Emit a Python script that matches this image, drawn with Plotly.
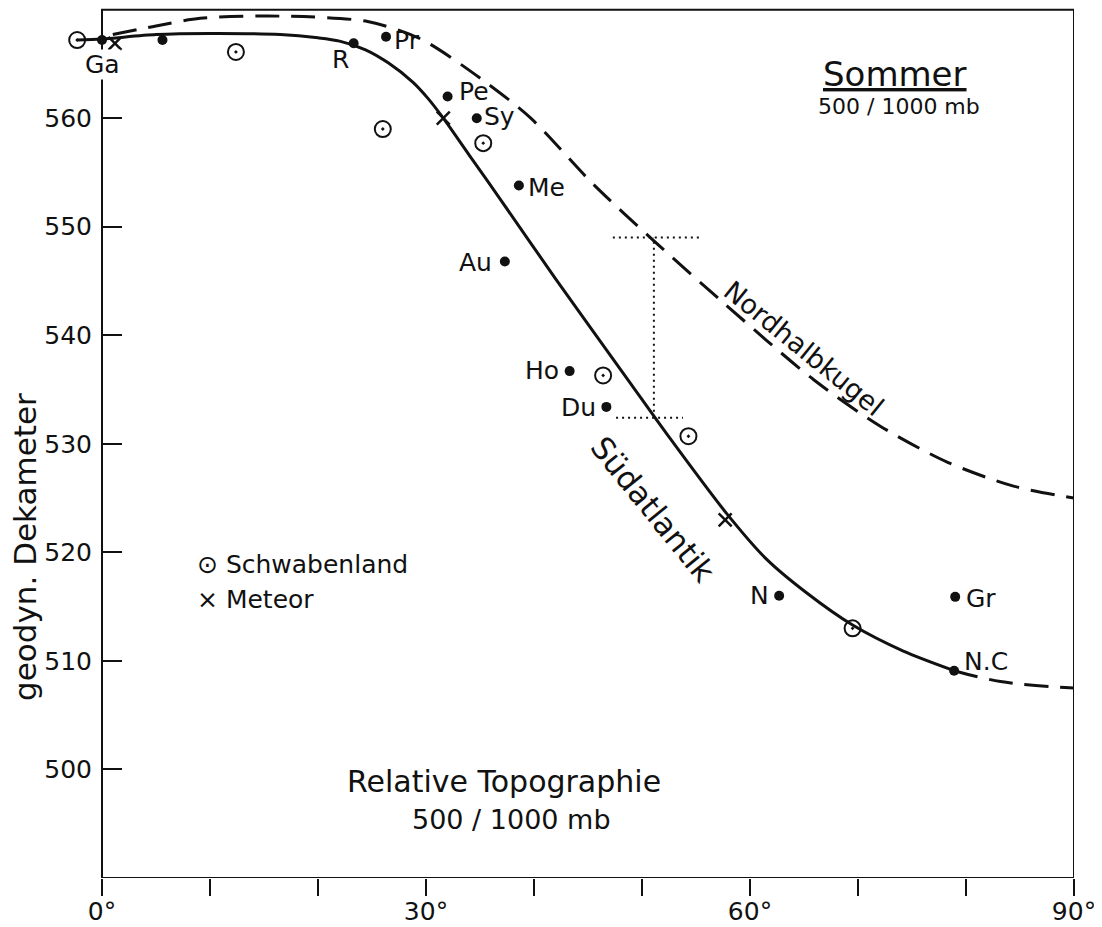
import plotly.graph_objects as go

# ---------------- data ----------------
# stations (filled dots) : latitude (deg) and relative topography (geodyn. dam)
station_names = ["Ga", "", "R", "Pr", "Pe", "Sy", "Me", "Au", "Ho", "Du", "N", "Gr", "N.C"]
station_lat = [0.0, 5.6, 23.3, 26.3, 32.0, 34.7, 38.6, 37.3, 43.3, 46.7, 62.7, 79.0, 78.9]
station_val = [567.2, 567.2, 566.9, 567.5, 562.0, 560.0, 553.8, 546.8, 536.7, 533.4, 516.0, 515.9, 509.1]

# Schwabenland observations (circle with dot)
schwaben_lat = [-2.3, 12.4, 26.0, 35.3, 46.4, 54.3, 69.5]
schwaben_val = [567.2, 566.1, 559.0, 557.7, 536.3, 530.7, 513.0]

# Meteor observations (x)
meteor_lat = [1.2, 31.6, 57.7]
meteor_val = [566.9, 560.0, 523.0]

# Suedatlantik mean curve (solid) and its dashed extension
sued_lat = [-2.3, 0.0, 5.0, 10.0, 16.5, 20.0, 22.0, 24.4, 26.5, 28.8, 30.2, 31.6, 34.0, 36.9,
            42.0, 48.7, 52.6, 57.9, 61.5, 65.2, 69.5, 74.2, 78.9]
sued_val = [567.2, 567.3, 567.7, 567.8, 567.7, 567.4, 567.1, 566.3, 565.1, 563.3, 561.8, 560.0, 556.6, 552.5,
            545.2, 535.9, 530.5, 523.5, 519.4, 516.3, 513.3, 510.9, 509.1]
sued_ext_lat = [78.9, 83.2, 90.0]
sued_ext_val = [509.1, 508.1, 507.5]

# Nordhalbkugel mean curve (dashed)
nord_lat = [1.0, 5.0, 9.1, 16.5, 24.6, 29.5, 35.0, 39.7, 45.5, 51.1, 57.3, 65.9, 72.1, 78.3, 84.4, 90.0]
nord_val = [567.7, 568.5, 569.2, 569.4, 568.9, 567.3, 563.7, 560.0, 553.9, 548.7, 543.2, 535.9, 531.6, 528.3, 526.1, 525.0]

# dotted difference bracket at ~51 deg
bracket_lat = 51.1
bracket_top = 549.0
bracket_bottom = 532.4
bracket_top_span = [47.3, 55.6]
bracket_bottom_span = [47.6, 53.8]

x_tick_vals = [0, 10, 20, 30, 40, 50, 60, 70, 80, 90]
x_tick_text = ["0°", "", "", "30°", "", "", "60°", "", "", "90°"]
y_tick_vals = [500, 510, 520, 530, 540, 550, 560]

# ---------------- styling / geometry ----------------
FONT = "DejaVu Sans"
BLACK = "#111111"
FIG_W, FIG_H = 1094, 919          # page body adds an 8px margin
M_L, M_R, M_T, M_B = 52, 28, 0, 49
AXIS0_PX = 94                      # figure pixel of the 0° axis
PLOT_W = FIG_W - M_L - M_R
X_MAX = 90.0
PX_PER_DEG = (FIG_W - M_R - AXIS0_PX) / X_MAX
X_MIN = -(AXIS0_PX - M_L) / PX_PER_DEG
Y_MIN, Y_TOP = 490.0, 570.0
Y_RANGE_TOP = 570.15               # a hair of headroom so the top frame line shows
Y_AXIS_POS = (0 - X_MIN) / (X_MAX - X_MIN)

fig = go.Figure()

# curves
fig.add_trace(go.Scatter(x=sued_lat, y=sued_val, mode="lines",
                         line=dict(color=BLACK, width=3, shape="spline", smoothing=0.8),
                         showlegend=False, hoverinfo="skip"))
fig.add_trace(go.Scatter(x=sued_ext_lat, y=sued_ext_val, mode="lines",
                         line=dict(color=BLACK, width=3, dash="24px,12px", shape="spline"),
                         showlegend=False, hoverinfo="skip"))
fig.add_trace(go.Scatter(x=nord_lat, y=nord_val, mode="lines",
                         line=dict(color=BLACK, width=3, dash="24px,12px", shape="spline", smoothing=0.8),
                         showlegend=False, hoverinfo="skip"))

# dotted bracket
dot_line = dict(color=BLACK, width=2, dash="2px,4px")
fig.add_trace(go.Scatter(x=[bracket_lat, bracket_lat], y=[bracket_bottom, bracket_top], mode="lines",
                         line=dot_line, showlegend=False, hoverinfo="skip"))
fig.add_trace(go.Scatter(x=bracket_top_span, y=[bracket_top, bracket_top], mode="lines",
                         line=dot_line, showlegend=False, hoverinfo="skip"))
fig.add_trace(go.Scatter(x=bracket_bottom_span, y=[bracket_bottom, bracket_bottom], mode="lines",
                         line=dot_line, showlegend=False, hoverinfo="skip"))

# markers
fig.add_trace(go.Scatter(x=station_lat, y=station_val, mode="markers",
                         marker=dict(symbol="circle", size=10, color=BLACK),
                         showlegend=False))
fig.add_trace(go.Scatter(x=schwaben_lat, y=schwaben_val, mode="markers",
                         marker=dict(symbol="circle-open-dot", size=16, color=BLACK,
                                     line=dict(width=2, color=BLACK)),
                         showlegend=False))
fig.add_trace(go.Scatter(x=meteor_lat, y=meteor_val, mode="markers",
                         marker=dict(symbol="x-thin-open", size=13, color=BLACK,
                                     line=dict(width=2.5, color=BLACK)),
                         showlegend=False))

# plot frame from 0° to 90°
fig.add_shape(type="rect", xref="x", yref="y", x0=0, x1=X_MAX, y0=Y_MIN, y1=Y_TOP,
              line=dict(color=BLACK, width=2), layer="below")

# station labels: (xanchor, xshift, yshift)
label_style = {
    "Ga": ("center", 0, -24),
    "R": ("center", -13, -16),
    "Pr": ("left", 7, -4),
    "Pe": ("left", 10, 5),
    "Sy": ("left", 6, 2),
    "Me": ("left", 8, -2),
    "Au": ("right", -12, -1),
    "Ho": ("right", -10, 1),
    "Du": ("right", -9, -1),
    "N": ("right", -9, 0),
    "Gr": ("left", 10, -2),
    "N.C": ("left", 9, 9),
}
for name, lx, ly in zip(station_names, station_lat, station_val):
    if not name:
        continue
    xa, xs, ys = label_style[name]
    fig.add_annotation(x=lx, y=ly, text=name, showarrow=False, xanchor=xa, yanchor="middle",
                       xshift=xs, yshift=ys, font=dict(family=FONT, size=25, color=BLACK),
                       bgcolor="white" if name == "Ga" else None, borderpad=0)

# curve labels
fig.add_annotation(x=65.0, y=538.8, text="Nordhalbkugel", showarrow=False, textangle=39,
                   font=dict(family=FONT, size=27, color=BLACK))
fig.add_annotation(x=51.0, y=524.0, text="Südatlantik", showarrow=False, textangle=51,
                   font=dict(family=FONT, size=31, color=BLACK))

# legend
fig.add_annotation(x=8.6, y=518.9, text="⊙ Schwabenland", showarrow=False, xanchor="left",
                   font=dict(family=FONT, size=25, color=BLACK))
fig.add_annotation(x=8.6, y=515.7, text="× Meteor", showarrow=False, xanchor="left",
                   font=dict(family=FONT, size=25, color=BLACK))

# titles
fig.add_annotation(x=73.4, y=564.1, text="<u>Sommer</u>", showarrow=False,
                   font=dict(family=FONT, size=34, color=BLACK))
fig.add_annotation(x=73.8, y=561.1, text="500 / 1000 mb", showarrow=False,
                   font=dict(family=FONT, size=22, color=BLACK))
fig.add_annotation(x=37.2, y=498.9, text="Relative Topographie", showarrow=False,
                   font=dict(family=FONT, size=30, color=BLACK))
fig.add_annotation(x=37.9, y=495.4, text="500 / 1000 mb", showarrow=False,
                   font=dict(family=FONT, size=27, color=BLACK))
fig.add_annotation(xref="paper", x=(17 - M_L) / PLOT_W, xanchor="center", y=520.5,
                   text="geodyn. Dekameter", showarrow=False, textangle=-90,
                   font=dict(family=FONT, size=31, color=BLACK))

fig.update_layout(
    width=FIG_W, height=FIG_H,
    margin=dict(l=M_L, r=M_R, t=M_T, b=M_B),
    paper_bgcolor="white", plot_bgcolor="white",
    font=dict(family=FONT, size=25, color=BLACK),
    showlegend=False,
)
fig.update_xaxes(range=[X_MIN, X_MAX], tickvals=x_tick_vals, ticktext=x_tick_text,
                 ticks="outside", ticklen=17, tickwidth=2, tickcolor=BLACK,
                 showline=False, showgrid=False, zeroline=False, automargin=False,
                 tickfont=dict(family=FONT, size=25), ticklabelstandoff=-6)
fig.update_yaxes(range=[Y_MIN, Y_RANGE_TOP], tickvals=y_tick_vals,
                 anchor="free", position=Y_AXIS_POS,
                 ticks="inside", ticklen=19, tickwidth=2, tickcolor=BLACK,
                 showline=False, showgrid=False, zeroline=False, automargin=False,
                 tickfont=dict(family=FONT, size=25), ticklabelstandoff=10)

fig.write_html("out.html")
